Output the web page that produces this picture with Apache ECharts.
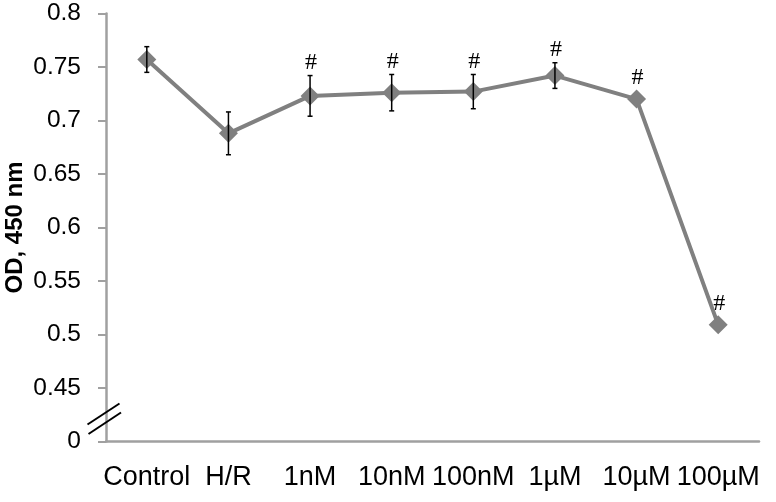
<!DOCTYPE html>
<html>
<head>
<meta charset="utf-8">
<script src="https://cdn.jsdelivr.net/npm/echarts@6/dist/echarts.min.js"></script>
<style>html,body{margin:0;padding:0;background:#fff;}#c{width:776px;height:502px;}</style>
</head>
<body>
<div id="c"></div>
<script>
const categories = ['Control', 'H/R', '1nM', '10nM', '100nM', '1\u00b5M', '10\u00b5M', '100\u00b5M'];
const odValues = [0.757, 0.688, 0.723, 0.726, 0.727, 0.742, 0.720, 0.509];
const errValues = [0.012, 0.020, 0.019, 0.017, 0.016, 0.012, 0.003, 0.002];
const hashFlags = [false, false, true, true, true, true, true, true];
const yMin = 0.4, yMax = 0.8, yStep = 0.05;

const chart = echarts.init(document.getElementById('c'), null, {renderer: 'canvas'});
const axisGrey = '#A0A0A0';
const sans = 'Liberation Sans';
const option = {
  animation: false,
  backgroundColor: '#fff',
  grid: {left: 106, right: 17, top: 13.5, bottom: 60.5, outerBoundsMode: 'none', containLabel: false},
  xAxis: {
    type: 'category',
    data: categories,
    boundaryGap: true,
    axisLine: {lineStyle: {color: axisGrey, width: 2.5}},
    axisTick: {alignWithLabel: true, length: 6, lineStyle: {color: axisGrey, width: 2}},
    axisLabel: {color: '#000', fontFamily: sans, fontSize: 27, margin: 23, interval: 0, hideOverlap: false}
  },
  yAxis: {
    type: 'value',
    min: yMin, max: yMax, interval: yStep,
    name: 'OD, 450 nm',
    nameLocation: 'middle',
    nameGap: 79,
    nameMoveOverlap: false,
    nameTextStyle: {color: '#000', fontFamily: sans, fontSize: 24, fontWeight: 'bold'},
    axisLine: {show: true, lineStyle: {color: axisGrey, width: 2.5}},
    axisTick: {show: true, length: 8, lineStyle: {color: axisGrey, width: 2}},
    splitLine: {show: false},
    axisLabel: {
      color: '#000', fontFamily: sans, fontSize: 24.5, margin: 25,
      formatter: v => (v < yMin + 0.01 ? '0' : String(+v.toFixed(2)))
    }
  },
  series: [
    {
      type: 'line',
      data: odValues,
      symbol: 'diamond',
      symbolSize: 19,
      itemStyle: {color: '#808080'},
      lineStyle: {color: '#808080', width: 4},
      z: 3
    },
    {
      type: 'custom',
      data: odValues.map((v, i) => [i, v, errValues[i], hashFlags[i] ? 1 : 0]),
      z: 4,
      renderItem: function (params, api) {
        const i = api.value(0), v = api.value(1), e = api.value(2), h = api.value(3);
        const top = api.coord([i, v + e]);
        const bot = api.coord([i, v - e]);
        const mid = api.coord([i, v]);
        const cw = 2.5;
        const children = [];
        if (e > 0.005) {
          const st = {stroke: '#000', lineWidth: 1.5};
          children.push({type: 'line', shape: {x1: top[0], y1: top[1], x2: bot[0], y2: bot[1]}, style: st});
          children.push({type: 'line', shape: {x1: top[0] - cw, y1: top[1], x2: top[0] + cw, y2: top[1]}, style: st});
          children.push({type: 'line', shape: {x1: bot[0] - cw, y1: bot[1], x2: bot[0] + cw, y2: bot[1]}, style: st});
        }
        if (h) {
          const y = Math.min(top[1] - 13, mid[1] - 21);
          children.push({type: 'text', style: {
            text: '#', x: mid[0] + 1, y: y, align: 'center', verticalAlign: 'middle',
            fontSize: 24, fontFamily: 'Liberation Serif', fill: '#000'
          }});
        }
        return {type: 'group', children: children};
      }
    }
  ]
};
chart.setOption(option);

// axis break mark between "0" and "0.45"
const p0 = chart.convertToPixel({gridIndex: 0}, [0, 0.421]);
const p1 = chart.convertToPixel({gridIndex: 0}, [1, 0.421]);
const axisX = p0[0] - (p1[0] - p0[0]) / 2;
const cy = p0[1];
chart.setOption({
  graphic: [
    {type: 'line', shape: {x1: axisX - 18.5, y1: cy + 5.5, x2: axisX + 13.5, y2: cy - 15.5}, style: {stroke: '#000', lineWidth: 2}, z: 10},
    {type: 'line', shape: {x1: axisX - 17.5, y1: cy + 15, x2: axisX + 15, y2: cy - 6.5}, style: {stroke: '#000', lineWidth: 2}, z: 10}
  ]
});
</script>
</body>
</html>
